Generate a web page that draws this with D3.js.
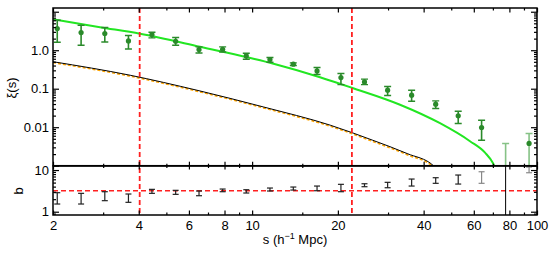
<!DOCTYPE html>
<html><head><meta charset="utf-8">
<script src="https://cdn.jsdelivr.net/npm/d3@7"></script>
<style>
body{margin:0;background:#fff}
svg{display:block}
text{font-family:"Liberation Sans",Arial,Helvetica,sans-serif;fill:#000}
</style>
</head><body><svg id="c" width="555" height="255"></svg>
<script>
// ---------- data ----------
const binS  = [2.07,2.51,3.04,3.68,4.45,5.39,6.51,7.88,9.54,11.55,13.95,16.9,20.5,24.8,29.9,36.3,44.1,52.9,63.9,77.6,93.8];
const xiVal = [3.66,2.88,2.72,1.74,2.56,1.71,1.04,1.06,0.711,0.573,0.433,0.290,0.195,0.150,0.0914,0.0678,0.0396,0.0197,0.00982,null,0.00378];
const xiLo  = [1.61,1.35,1.64,1.08,2.09,1.35,0.85,0.90,0.584,0.488,0.401,0.234,0.128,0.128,0.0666,0.0473,0.0306,0.0125,0.00459,null,null];
const xiHi  = [6.0,4.46,3.89,2.41,2.93,2.14,1.22,1.22,0.836,0.646,0.468,0.356,0.248,0.177,0.114,0.0914,0.0482,0.026,0.0152,0.00378,0.00686];
const bLo   = [1.53,1.53,1.84,1.68,2.76,2.61,2.42,3.02,2.81,3.14,3.31,3.19,3.02,3.98,3.76,4.13,4.80,4.61,4.80,null,8.61];
const bHi   = [2.86,2.76,3.02,2.66,3.44,3.26,3.14,3.50,3.37,3.70,3.91,4.13,4.54,4.69,5.07,6.08,6.54,7.59,9.10,null,11.8];

const greenS  = [2.0,2.924,4.04,6.56,11.55,17.31,22.36,33.05,45.66,58.18,65.7,70.1,72.4];
const greenXi = [6.38,3.96,2.68,1.233,0.4735,0.199,0.1062,0.0384,0.0127,0.00433,0.00218,0.00116,0.00068];
const blackS  = [2.0,3.73,6.40,10.94,18.8,26.5,35.0,43.3,45.0];
const blackXi = [0.503,0.224,0.0914,0.0337,0.0113,0.00459,0.00207,0.00100,0.0007];
const orangeS  = [2.0,3.73,6.40,10.94,18.8,26.5,35.0,43.3,45.0];
const orangeXi = [0.478,0.212,0.0866,0.0318,0.0106,0.00430,0.00193,0.00093,0.00065];

const sCuts = [4.03, 22.4];
const sMaxLine = 77.6;
const bFit = 3.19;

const xTickVals = [2,4,6,8,10,20,40,60,80,100];
const xTickLabels = ["2","4","6","8","10","20","40","60","80","100"];
const xMinorVals = [3,5,7,9,15,30,50,70,90];
const xiTickVals = [0.01,0.1,1];
const xiTickLabels = ["0.01","0.1","1.0"];
const bTickVals = [1,10];
const bTickLabels = ["1","10"];

// ---------- layout ----------
const L = 53, R = 537, T1 = 8, B1 = 165.7, T2 = 166, B2 = 215;
const svg = d3.select("#c");
const x = d3.scaleLog().domain([2,100]).range([L,R]);
const yT = d3.scaleLog().domain([0.001,12.5]).range([B1,T1]);
const yB = d3.scaleLog().domain([0.834,12.5]).range([B2,T2]);

const defs = svg.append("defs");
defs.append("clipPath").attr("id","cT").append("rect").attr("x",L).attr("y",T1).attr("width",R-L).attr("height",B1-T1);
defs.append("clipPath").attr("id","cB").append("rect").attr("x",L).attr("y",T2).attr("width",R-L).attr("height",B2-T2);

function minors(dom){
  const out=[]; for(let e=-4;e<=3;e++){for(let m=2;m<=9;m++){const v=m*Math.pow(10,e); if(v>=dom[0]&&v<=dom[1]) out.push(v);} }
  return out;
}
function decades(dom){const out=[];for(let e=-4;e<=3;e++){const v=Math.pow(10,e); if(v>=dom[0]*0.999&&v<=dom[1]) out.push(v);}return out;}

// ---------- top panel ----------
const gT = svg.append("g").attr("clip-path","url(#cT)");
const lineGen = (ys) => d3.line().x(d=>x(d[0])).y(d=>ys(d[1])).curve(d3.curveMonotoneX);

gT.append("path").datum(greenS.map((s,i)=>[s,greenXi[i]]))
  .attr("d",lineGen(yT)).attr("fill","none").attr("stroke","#22e622").attr("stroke-width",2);
gT.append("path").datum(orangeS.map((s,i)=>[s,orangeXi[i]]))
  .attr("d",lineGen(yT)).attr("fill","none").attr("stroke","#ffa500").attr("stroke-width",1.6).attr("stroke-dasharray","3,2");
gT.append("path").datum(blackS.map((s,i)=>[s,blackXi[i]]))
  .attr("d",lineGen(yT)).attr("fill","none").attr("stroke","#000").attr("stroke-width",1);

const darkG = "#2a8a2a", lightG = "#86c286";
binS.forEach((s,i)=>{
  const faint = s >= sMaxLine*0.99;
  const col = faint ? lightG : darkG;
  const cx = x(s);
  const yh = yT(xiHi[i]);
  const yl = (xiLo[i]==null) ? B1+3 : yT(xiLo[i]);
  gT.append("line").attr("x1",cx).attr("x2",cx).attr("y1",yh).attr("y2",yl).attr("stroke",col).attr("stroke-width",1.6);
  gT.append("line").attr("x1",cx-3.5).attr("x2",cx+3.5).attr("y1",yh).attr("y2",yh).attr("stroke",col).attr("stroke-width",1.4);
  if(xiLo[i]!=null) gT.append("line").attr("x1",cx-3.5).attr("x2",cx+3.5).attr("y1",yl).attr("y2",yl).attr("stroke",col).attr("stroke-width",1.4);
  if(xiVal[i]!=null) gT.append("circle").attr("cx",cx).attr("cy",yT(xiVal[i])).attr("r",2.6).attr("fill",darkG);
});

// ---------- bottom panel ----------
const gB = svg.append("g").attr("clip-path","url(#cB)");
gB.append("line").attr("x1",L).attr("x2",R).attr("y1",yB(bFit)).attr("y2",yB(bFit))
  .attr("stroke","#ff2020").attr("stroke-width",1.6).attr("stroke-dasharray","5,3");
gB.append("line").attr("x1",x(sMaxLine)).attr("x2",x(sMaxLine)).attr("y1",T2).attr("y2",B2).attr("stroke","#000").attr("stroke-width",1);
binS.forEach((s,i)=>{
  if(bLo[i]==null) return;
  const col = s > 60 ? "#888" : "#222";
  const cx = x(s), yh=yB(bHi[i]), yl=yB(bLo[i]);
  gB.append("line").attr("x1",cx).attr("x2",cx).attr("y1",yh).attr("y2",yl).attr("stroke",col).attr("stroke-width",1.2);
  [yh,yl].forEach(yy=>gB.append("line").attr("x1",cx-3).attr("x2",cx+3).attr("y1",yy).attr("y2",yy).attr("stroke",col).attr("stroke-width",1.2));
});

// red vertical dashed lines across both panels
sCuts.forEach(s=>{
  svg.append("line").attr("x1",x(s)).attr("x2",x(s)).attr("y1",T1).attr("y2",B2)
    .attr("stroke","#ff2020").attr("stroke-width",1.8).attr("stroke-dasharray","5,3");
});

// ---------- axes ----------
function styleAxis(g){ g.select(".domain").remove(); g.selectAll("line").attr("stroke","#000").attr("stroke-width",1.2); g.selectAll("text").attr("font-size",13).attr("fill","#000"); return g; }

function xTicks(y, dirUp, maj, min, labels){
  const a1 = (dirUp? d3.axisBottom(x) : d3.axisTop(x)).tickValues(xTickVals).tickSize(-maj).tickPadding(6)
     .tickFormat(labels ? ((d,i)=>xTickLabels[i]) : "");
  styleAxis(svg.append("g").attr("transform",`translate(0,${y})`).call(a1));
  const a2 = (dirUp? d3.axisBottom(x) : d3.axisTop(x)).tickValues(xMinorVals).tickSize(-min).tickFormat("");
  styleAxis(svg.append("g").attr("transform",`translate(0,${y})`).call(a2));
}
xTicks(T1,false,4.5,2.5,false);
xTicks(B1,true,4,2,false);
xTicks(T2,false,3.5,2,false);
xTicks(B2,true,4.5,2.5,true);

function yTicks(scale, dom, labVals, labTexts, maj, min){
  const dec = decades(dom), mn = minors(dom);
  const fmt = d=>{const k=labVals.findIndex(v=>Math.abs(v-d)/v<1e-6); return k>=0?labTexts[k]:"";};
  styleAxis(svg.append("g").attr("transform",`translate(${L},0)`).call(d3.axisLeft(scale).tickValues(dec).tickSize(-maj).tickPadding(4).tickFormat(fmt)));
  styleAxis(svg.append("g").attr("transform",`translate(${L},0)`).call(d3.axisLeft(scale).tickValues(mn).tickSize(-min).tickFormat("")));
  styleAxis(svg.append("g").attr("transform",`translate(${R},0)`).call(d3.axisRight(scale).tickValues(dec).tickSize(-maj).tickFormat("")));
  styleAxis(svg.append("g").attr("transform",`translate(${R},0)`).call(d3.axisRight(scale).tickValues(mn).tickSize(-min).tickFormat("")));
}
yTicks(yT,yT.domain(),xiTickVals,xiTickLabels,6,3);
yTicks(yB,yB.domain(),bTickVals,bTickLabels,6,3);

// frames
svg.append("rect").attr("x",L).attr("y",T1).attr("width",R-L).attr("height",B1-T1).attr("fill","none").attr("stroke","#000").attr("stroke-width",1.5);
svg.append("rect").attr("x",L).attr("y",T2).attr("width",R-L).attr("height",B2-T2).attr("fill","none").attr("stroke","#000").attr("stroke-width",1.5);

// axis titles
svg.append("text").attr("transform","translate(16,88) rotate(-90)").attr("text-anchor","middle").attr("font-size",13).text("ξ(s)");
svg.append("text").attr("transform","translate(23,191) rotate(-90)").attr("text-anchor","middle").attr("font-size",13).text("b");
const xl = svg.append("text").attr("x",295).attr("y",244).attr("text-anchor","middle").attr("font-size",13);
xl.append("tspan").text("s (h");
xl.append("tspan").attr("font-size",9).attr("dy",-5).text("−1");
xl.append("tspan").attr("dy",5).text(" Mpc)");
</script>
</body></html>
